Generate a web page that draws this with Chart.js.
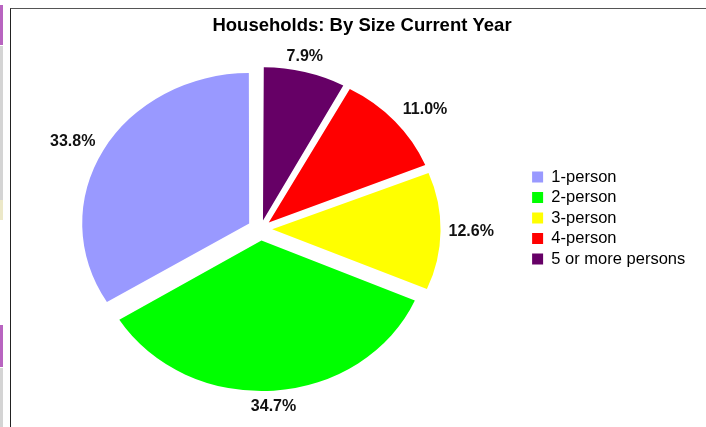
<!DOCTYPE html>
<html><head><meta charset="utf-8">
<script src="https://cdn.jsdelivr.net/npm/chart.js@4"></script>
<style>
html,body{margin:0;padding:0;background:#fff;}
#wrap{position:relative;width:706px;height:427px;overflow:hidden;background:#fff;}
#frame{position:absolute;left:10px;top:8px;right:-2px;bottom:-2px;border-left:1px solid #222;border-top:1px solid #555;}
canvas{position:absolute;left:-7px;top:0;}
.strip{position:absolute;left:0;width:3px;}
</style></head>
<body><div id="wrap">
<div class="strip" style="top:5px;height:40px;background:#b864c0"></div>
<div class="strip" style="top:46px;height:154px;background:#d4d4d4"></div>
<div class="strip" style="top:200px;height:20px;background:#ece8c8"></div>
<div class="strip" style="top:325px;height:42px;background:#b864c0"></div>
<div class="strip" style="top:368px;height:59px;background:#d4d4d4"></div>
<div id="frame"></div>
<canvas id="c" width="713" height="427"></canvas>
</div>
<script>
// ---- data ----
const categories = ['1-person', '2-person', '3-person', '4-person', '5 or more persons'];
const shares = [33.8, 34.7, 12.6, 11.0, 7.9];
const sliceColors = ['#9999FF', '#00FF00', '#FFFF00', '#FF0000', '#660066'];
const chartTitle = 'Households: By Size Current Year';

// ---- style constants ----
const FONT = '"Liberation Sans", Arial, Helvetica, sans-serif';
const EXPLODE = 15;      // px each slice is pulled out
const SQUASH = 0.9;      // vertical flattening of the pie
const LABEL_GAP = 8;

// the reference is drawn counter-clockwise from 12 o'clock; Chart.js draws clockwise,
// so feed the slices in reverse order and reverse the legend back.
const order = categories.map((_, i) => i).reverse();
const total = shares.reduce((a, b) => a + b, 0);
function offsetFor(v) {
  const circ = v / total * Math.PI * 2;
  return 4 * EXPLODE / (2 - Math.sin(Math.min(Math.PI, circ)));
}

const squashPlugin = {
  id: 'squash',
  beforeDatasetsDraw(chart) {
    const a = chart.getDatasetMeta(0).data[0];
    const ctx = chart.ctx;
    ctx.save();
    ctx.translate(a.x, a.y);
    ctx.scale(1, SQUASH);
    ctx.translate(-a.x, -a.y);
  },
  afterDatasetsDraw(chart) { chart.ctx.restore(); }
};

const pctLabels = {
  id: 'pctLabels',
  afterDatasetsDraw(chart) {
    const ctx = chart.ctx;
    const meta = chart.getDatasetMeta(0);
    const ds = chart.data.datasets[0];
    ctx.save();
    ctx.font = 'bold 16px ' + FONT;
    ctx.fillStyle = '#111';
    ctx.textAlign = 'center';
    ctx.textBaseline = 'middle';
    meta.data.forEach((arc, i) => {
      const p = arc.getProps(['x', 'y', 'startAngle', 'endAngle', 'outerRadius', 'circumference']);
      const mid = (p.startAngle + p.endAngle) / 2;
      const off = (arc.options.offset || 0) / 4 * (2 - Math.sin(Math.min(Math.PI, p.circumference)));
      const r = p.outerRadius + off;
      const c = Math.cos(mid), s = Math.sin(mid);
      const ex = p.x + c * r;
      const ey = p.y + s * r * SQUASH;
      const txt = ds.data[i].toFixed(1) + '%';
      const w = ctx.measureText(txt).width;
      let lx, ly;
      if (Math.abs(c) > 0.5) {
        lx = ex + Math.sign(c) * (w / 2 + LABEL_GAP);
        ly = ey + s * 18;
      } else {
        lx = ex;
        ly = ey + s * (8 + LABEL_GAP);
      }
      ctx.fillText(txt, lx, ly);
    });
    ctx.restore();
  }
};

Chart.defaults.font.family = FONT;

new Chart(document.getElementById('c'), {
  type: 'pie',
  data: {
    labels: order.map(i => categories[i]),
    datasets: [{
      data: order.map(i => shares[i]),
      backgroundColor: order.map(i => sliceColors[i]),
      borderWidth: 0,
      offset: order.map(i => offsetFor(shares[i])),
      hoverOffset: 0,
      radius: 165
    }]
  },
  options: {
    responsive: false,
    animation: false,
    radius: 165,
    layout: { padding: { left: 0, right: -25, top: 15, bottom: 6 } },
    plugins: {
      title: {
        display: true, text: chartTitle, color: '#000',
        font: { family: FONT, size: 18.5, weight: 'bold' }, padding: 0
      },
      subtitle: {
        display: true, text: '', position: 'right',
        font: { size: 10 }, padding: { top: 23.75, bottom: 0 }
      },
      legend: {
        position: 'right', reverse: true,
        labels: {
          boxWidth: 11, boxHeight: 11, padding: 4, color: '#000',
          font: { family: FONT, size: 16.5 }
        }
      },
      tooltip: { enabled: false }
    }
  },
  plugins: [squashPlugin, pctLabels]
});
</script>
</body></html>
